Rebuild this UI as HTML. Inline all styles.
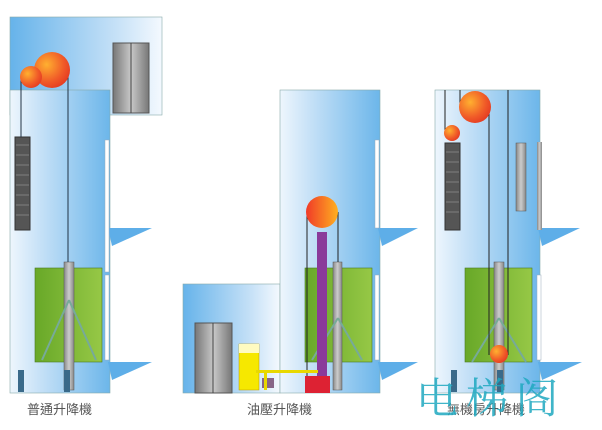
<!DOCTYPE html>
<html><head><meta charset="utf-8"><style>
html,body{margin:0;padding:0;background:#fff;width:602px;height:430px;overflow:hidden}
</style></head><body>
<svg width="602" height="430" viewBox="0 0 602 430" xmlns="http://www.w3.org/2000/svg" font-family="'Liberation Sans','Noto Sans CJK TC',sans-serif">
<defs>
<linearGradient id="sh" x1="0" x2="1" y1="0" y2="0">
<stop offset="0" stop-color="#eef6fd"/><stop offset="0.3" stop-color="#c6e1f7"/><stop offset="1" stop-color="#6cb6ea"/>
</linearGradient>
<linearGradient id="shr" x1="0" x2="1" y1="0" y2="0">
<stop offset="0" stop-color="#66b3ea"/><stop offset="0.7" stop-color="#c6e1f7"/><stop offset="1" stop-color="#f4f9fe"/>
</linearGradient>
<linearGradient id="grn" x1="0" x2="1"><stop offset="0" stop-color="#68a828"/><stop offset="1" stop-color="#96c846"/></linearGradient>
<radialGradient id="ball" cx="0.35" cy="0.35" r="0.8"><stop offset="0" stop-color="#ffb030"/><stop offset="0.6" stop-color="#f05a28"/><stop offset="1" stop-color="#e03020"/></radialGradient>
<linearGradient id="ball2" x1="0" x2="1"><stop offset="0" stop-color="#f03a28"/><stop offset="1" stop-color="#ffb020"/></linearGradient>
<linearGradient id="door" x1="0" x2="1"><stop offset="0" stop-color="#777"/><stop offset="0.5" stop-color="#c8c8c8"/><stop offset="1" stop-color="#777"/></linearGradient>
<linearGradient id="rail" x1="0" x2="1"><stop offset="0" stop-color="#888"/><stop offset="0.5" stop-color="#ccc"/><stop offset="1" stop-color="#888"/></linearGradient>
</defs>

<!-- Panel 1 -->
<rect x="10" y="17" width="152" height="98" fill="url(#shr)" stroke="#8aa" stroke-width="0.6"/>
<rect x="10" y="90" width="100" height="303" fill="url(#sh)" stroke="#8aa" stroke-width="0.6"/>
<rect x="113" y="43" width="36" height="70" fill="url(#door)" stroke="#555"/>
<line x1="131" y1="43" x2="131" y2="113" stroke="#444"/>
<polygon points="108,228 152,228 112,246" fill="#5eaee8"/>
<polygon points="108,362 152,362 112,380" fill="#5eaee8"/>
<rect x="105" y="140" width="4" height="132" fill="#fff" stroke="#9ab" stroke-width="0.5"/>
<rect x="105" y="275" width="4" height="85" fill="#fff" stroke="#9ab" stroke-width="0.5"/>
<rect x="15" y="137" width="15" height="93" fill="#555" stroke="#333"/>
<g stroke="#999" stroke-width="0.6"><line x1="16" y1="145" x2="29" y2="145"/><line x1="16" y1="155" x2="29" y2="155"/><line x1="16" y1="165" x2="29" y2="165"/><line x1="16" y1="175" x2="29" y2="175"/><line x1="16" y1="185" x2="29" y2="185"/><line x1="16" y1="195" x2="29" y2="195"/><line x1="16" y1="205" x2="29" y2="205"/><line x1="16" y1="215" x2="29" y2="215"/></g>
<rect x="35" y="268" width="67" height="94" fill="url(#grn)" stroke="#4a7a20" stroke-width="0.6"/>
<rect x="64" y="262" width="10" height="128" fill="url(#rail)" stroke="#555" stroke-width="0.5"/>
<line x1="69" y1="300" x2="42" y2="360" stroke="#7a9" stroke-width="2"/><line x1="69" y1="300" x2="96" y2="360" stroke="#7a9" stroke-width="2"/>
<line x1="21" y1="80" x2="21" y2="137" stroke="#234" stroke-width="1"/>
<line x1="68" y1="70" x2="68" y2="262" stroke="#234" stroke-width="1"/>
<circle cx="52" cy="70" r="18" fill="url(#ball)"/>
<circle cx="31" cy="77" r="11" fill="url(#ball)"/>
<rect x="18" y="370" width="6" height="22" fill="#3a6a8a"/><rect x="64" y="370" width="6" height="22" fill="#3a6a8a"/>
<text x="27" y="414" font-size="13" fill="#555">普通升降機</text>

<!-- Panel 2 -->
<rect x="183" y="284" width="97" height="109" fill="url(#shr)" stroke="#8aa" stroke-width="0.6"/>
<rect x="280" y="90" width="100" height="303" fill="url(#sh)" stroke="#8aa" stroke-width="0.6"/>
<polygon points="378,228 418,228 382,246" fill="#5eaee8"/>
<polygon points="378,362 418,362 382,380" fill="#5eaee8"/>
<rect x="375" y="140" width="4" height="88" fill="#fff" stroke="#9ab" stroke-width="0.5"/>
<rect x="375" y="275" width="4" height="85" fill="#fff" stroke="#9ab" stroke-width="0.5"/>
<rect x="195" y="323" width="37" height="70" fill="url(#door)" stroke="#555"/>
<line x1="213" y1="323" x2="213" y2="393" stroke="#444"/>
<rect x="305" y="268" width="67" height="94" fill="url(#grn)" stroke="#4a7a20" stroke-width="0.6"/>
<rect x="333" y="262" width="9" height="128" fill="url(#rail)" stroke="#555" stroke-width="0.5"/>
<line x1="338" y1="318" x2="312" y2="360" stroke="#7a9" stroke-width="2"/><line x1="338" y1="318" x2="362" y2="360" stroke="#7a9" stroke-width="2"/>
<rect x="317" y="232" width="10" height="145" fill="#8a3a9a"/>
<line x1="307" y1="212" x2="307" y2="380" stroke="#222"/><line x1="338" y1="212" x2="338" y2="262" stroke="#222"/>
<circle cx="322" cy="212" r="16" fill="url(#ball2)"/>
<rect x="305" y="376" width="25" height="17" fill="#d23"/>
<rect x="239" y="344" width="20" height="46" fill="#f6e800" stroke="#b90" stroke-width="0.5"/>
<rect x="239" y="344" width="20" height="9" fill="#fffbc0"/>
<rect x="256" y="370" width="62" height="3" fill="#e8d800"/>
<rect x="262" y="378" width="12" height="10" fill="#868"/>
<rect x="264" y="370" width="3" height="20" fill="#e8d800"/>
<text x="247" y="414" font-size="13" fill="#555">油壓升降機</text>

<!-- Panel 3 -->
<rect x="435" y="90" width="105" height="303" fill="url(#sh)" stroke="#8aa" stroke-width="0.6"/>
<polygon points="538,228 580,228 542,246" fill="#5eaee8"/>
<polygon points="538,362 582,362 542,380" fill="#5eaee8"/>
<rect x="537" y="142" width="5" height="88" fill="url(#rail)"/>
<rect x="537" y="275" width="4" height="85" fill="#fff" stroke="#9ab" stroke-width="0.5"/>
<rect x="516" y="143" width="10" height="68" fill="url(#rail)" stroke="#555" stroke-width="0.5"/>
<rect x="445" y="143" width="15" height="87" fill="#555" stroke="#333"/>
<g stroke="#999" stroke-width="0.6"><line x1="446" y1="152" x2="459" y2="152"/><line x1="446" y1="162" x2="459" y2="162"/><line x1="446" y1="172" x2="459" y2="172"/><line x1="446" y1="182" x2="459" y2="182"/><line x1="446" y1="192" x2="459" y2="192"/><line x1="446" y1="202" x2="459" y2="202"/><line x1="446" y1="212" x2="459" y2="212"/></g>
<rect x="465" y="268" width="67" height="94" fill="url(#grn)" stroke="#4a7a20" stroke-width="0.6"/>
<rect x="494" y="262" width="10" height="128" fill="url(#rail)" stroke="#555" stroke-width="0.5"/>
<line x1="499" y1="318" x2="472" y2="362" stroke="#7a9" stroke-width="2"/><line x1="499" y1="318" x2="526" y2="362" stroke="#7a9" stroke-width="2"/>
<g stroke="#222" stroke-width="1"><line x1="445" y1="90" x2="445" y2="130"/><line x1="460" y1="90" x2="460" y2="110"/><line x1="489" y1="107" x2="489" y2="355"/><line x1="508" y1="90" x2="508" y2="355"/></g>
<circle cx="475" cy="107" r="16" fill="url(#ball)"/>
<circle cx="452" cy="133" r="8" fill="url(#ball)"/>
<circle cx="499" cy="354" r="9" fill="url(#ball)"/>
<rect x="451" y="370" width="6" height="22" fill="#3a6a8a"/><rect x="497" y="370" width="6" height="22" fill="#3a6a8a"/>
<text x="447" y="414" font-size="13" fill="#555">無機房升降機</text>
<text x="416" y="413" font-size="42" fill="#1fa8c0" fill-opacity="0.85" font-family="'Noto Serif CJK SC','Noto Sans CJK SC',serif" letter-spacing="8">电梯阁</text>
</svg>
</body></html>
